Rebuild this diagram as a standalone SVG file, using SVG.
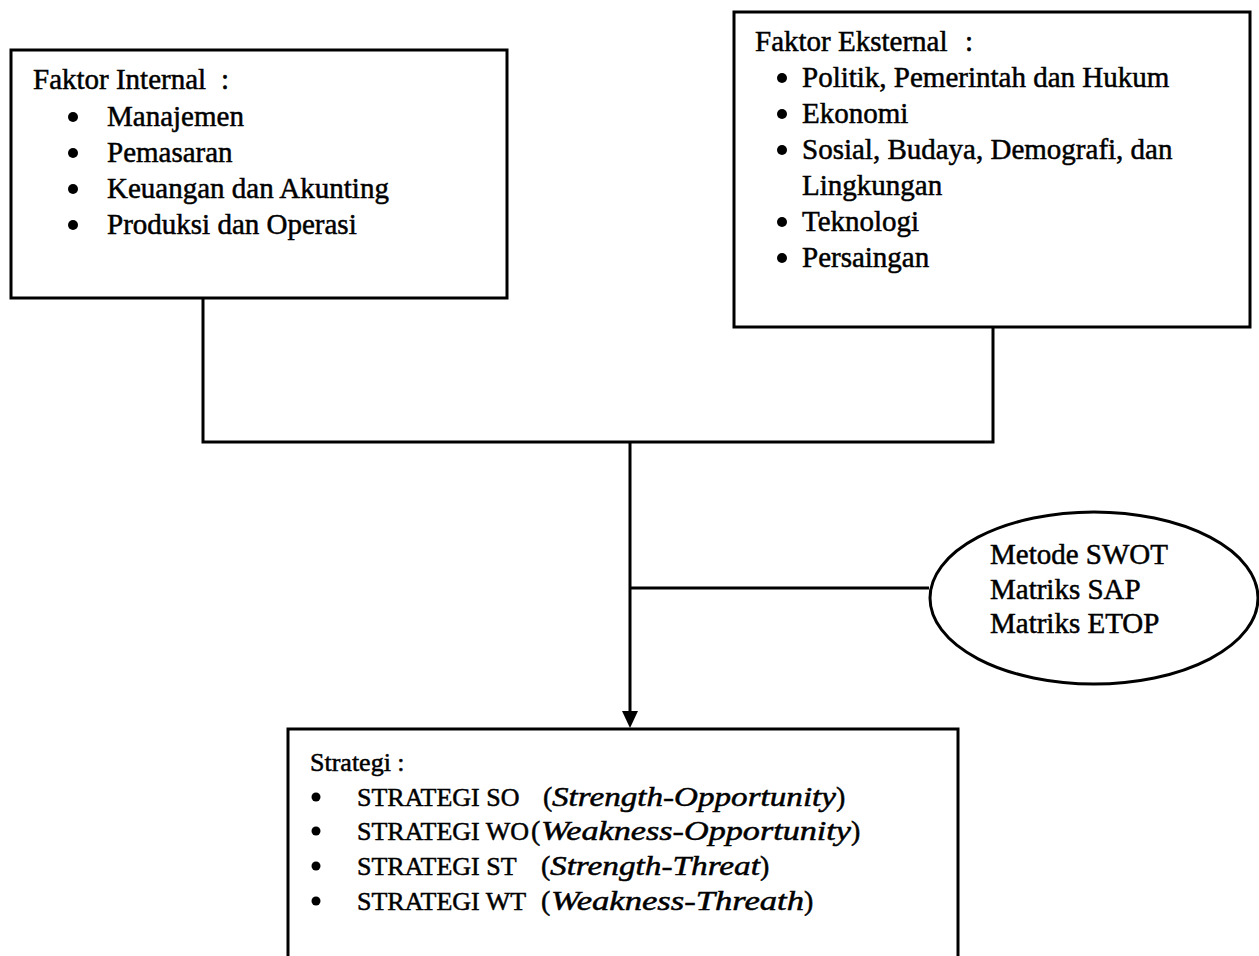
<svg xmlns="http://www.w3.org/2000/svg" width="1259" height="956" viewBox="0 0 1259 956">
<style>
.box{fill:#fff;stroke:#000;stroke-width:3}
.ln{fill:none;stroke:#000;stroke-width:3}
text{font-family:"Liberation Serif","Times New Roman",serif;font-size:29px;fill:#000;stroke:#000;stroke-width:0.5}
.s3{font-size:28px}
.cap{font-size:26px}
.it{font-style:italic}
</style>
<g id="connectors">
<polyline class="ln" points="203,298 203,442 993,442 993,327"/>
<line class="ln" x1="630" y1="442" x2="630" y2="712"/>
<path d="M622,711 L638,711 L630,728 Z" fill="#000"/>
<line class="ln" x1="630" y1="588" x2="929" y2="588"/>
</g>
<g id="internal">
<rect class="box" x="11" y="50" width="496" height="248"/>
<text y="89"><tspan x="33">Faktor Internal</tspan><tspan x="221">:</tspan></text>
<circle cx="73" cy="117" r="5"/><text x="107" y="126">Manajemen</text>
<circle cx="73" cy="153" r="5"/><text x="107" y="162">Pemasaran</text>
<circle cx="73" cy="189" r="5"/><text x="107" y="198">Keuangan dan Akunting</text>
<circle cx="73" cy="225" r="5"/><text x="107" y="234">Produksi dan Operasi</text>
</g>
<g id="eksternal">
<rect class="box" x="734" y="12" width="516" height="315"/>
<text y="51"><tspan x="755">Faktor Eksternal</tspan><tspan x="965">:</tspan></text>
<circle cx="782" cy="78" r="5"/><text x="802" y="87">Politik, Pemerintah dan Hukum</text>
<circle cx="782" cy="114" r="5"/><text x="802" y="123">Ekonomi</text>
<circle cx="782" cy="150" r="5"/><text x="802" y="159">Sosial, Budaya, Demografi, dan</text>
<text x="802" y="195">Lingkungan</text>
<circle cx="782" cy="222" r="5"/><text x="802" y="231">Teknologi</text>
<circle cx="782" cy="258" r="5"/><text x="802" y="267">Persaingan</text>
</g>
<g id="metode">
<ellipse class="box" cx="1094" cy="598" rx="164" ry="86"/>
<text x="990" y="564">Metode SWOT</text>
<text x="990" y="599">Matriks SAP</text>
<text x="990" y="633">Matriks ETOP</text>
</g>
<g id="strategi">
<rect class="box" x="288" y="729" width="670" height="240"/>
<text class="cap" x="310" y="771">Strategi :</text>
<circle cx="316" cy="797" r="4.5"/>
<text class="s3" y="806"><tspan class="cap" x="357">STRATEGI SO</tspan><tspan x="543">(</tspan><tspan class="it" x="552" textLength="284" lengthAdjust="spacingAndGlyphs">Strength-Opportunity</tspan><tspan x="836">)</tspan></text>
<circle cx="316" cy="831" r="4.5"/>
<text class="s3" y="840"><tspan class="cap" x="357">STRATEGI WO</tspan><tspan x="531">(</tspan><tspan class="it" x="541" textLength="310" lengthAdjust="spacingAndGlyphs">Weakness-Opportunity</tspan><tspan x="851">)</tspan></text>
<circle cx="316" cy="866" r="4.5"/>
<text class="s3" y="875"><tspan class="cap" x="357">STRATEGI ST</tspan><tspan x="541">(</tspan><tspan class="it" x="550" textLength="210" lengthAdjust="spacingAndGlyphs">Strength-Threat</tspan><tspan x="760">)</tspan></text>
<circle cx="316" cy="901" r="4.5"/>
<text class="s3" y="910"><tspan class="cap" x="357">STRATEGI WT</tspan><tspan x="541">(</tspan><tspan class="it" x="551" textLength="253" lengthAdjust="spacingAndGlyphs">Weakness-Threath</tspan><tspan x="804">)</tspan></text>
</g>
</svg>
